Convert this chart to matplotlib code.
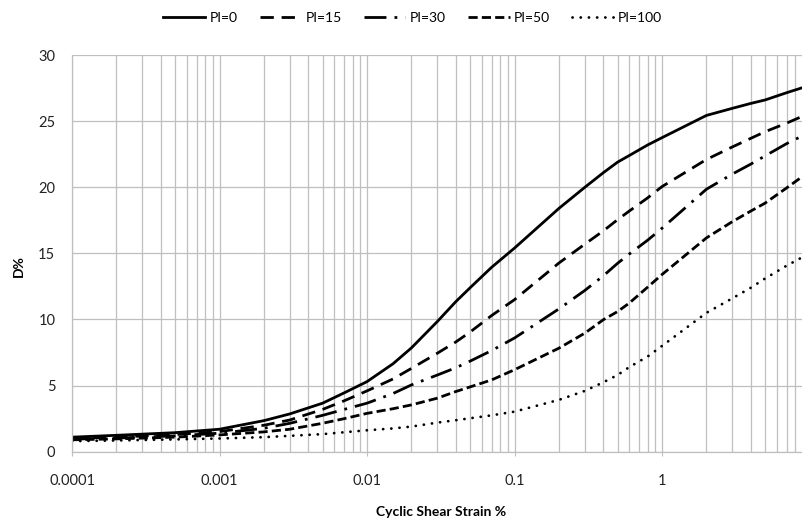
import numpy as np
import matplotlib.pyplot as plt
from matplotlib.ticker import LogLocator, FixedLocator, NullFormatter

plt.rcParams['font.family'] = ['Lato', 'DejaVu Sans']

# cyclic shear strain (%) and damping ratio D (%) for each plasticity index
strain = [1e-4, 2e-4, 5e-4, 1e-3, 2e-3, 3e-3, 5e-3, 7e-3, 0.01, 0.015, 0.02,
          0.03, 0.04, 0.05, 0.07, 0.1, 0.2, 0.3, 0.4, 0.5, 0.6, 0.8, 1,
          2, 3, 4, 5, 7, 10]
d_pi0 = [1.1, 1.24, 1.44, 1.7, 2.35, 2.86, 3.67, 4.45, 5.3, 6.65, 7.85,
         9.85, 11.35, 12.4, 13.95, 15.4, 18.4, 20.0, 21.1, 21.9, 22.4,
         23.2, 23.75, 25.43, 25.97, 26.34, 26.6, 27.15, 27.7]
d_pi15 = [1.0, 1.1, 1.3, 1.52, 2.0, 2.4, 3.2, 3.85, 4.6, 5.5, 6.3,
          7.45, 8.3, 9.05, 10.3, 11.5, 14.27, 15.7, 16.7, 17.55, 18.2,
          19.2, 20.05, 22.1, 23.05, 23.7, 24.2, 24.85, 25.6]
d_pi30 = [0.95, 1.03, 1.2, 1.4, 1.77, 2.15, 2.75, 3.2, 3.67, 4.4, 5.05,
          5.8, 6.35, 6.85, 7.65, 8.6, 10.8, 12.2, 13.3, 14.25, 14.95,
          16.0, 16.9, 19.85, 21.0, 21.75, 22.37, 23.3, 24.15]
d_pi50 = [0.9, 0.97, 1.1, 1.27, 1.5, 1.7, 2.15, 2.5, 2.9, 3.25, 3.54,
          4.05, 4.55, 4.9, 5.43, 6.2, 7.83, 8.97, 9.98, 10.6, 11.24,
          12.45, 13.4, 16.17, 17.4, 18.2, 18.8, 19.95, 21.2]
d_pi100 = [0.8, 0.85, 0.93, 1.0, 1.1, 1.2, 1.33, 1.47, 1.62, 1.76, 1.9,
           2.2, 2.38, 2.53, 2.75, 3.03, 3.92, 4.6, 5.25, 5.8, 6.4,
           7.2, 8.0, 10.5, 11.6, 12.4, 13.1, 14.07, 15.0]
labels = ['PI=0', 'PI=15', 'PI=30', 'PI=50', 'PI=100']
x_ticks = [0.0001, 0.001, 0.01, 0.1, 1]
x_ticklabels = ['0.0001', '0.001', '0.01', '0.1', '1']
y_ticks = [0, 5, 10, 15, 20, 25, 30]

fig = plt.figure(figsize=(8.03, 5.21), dpi=100)
ax = fig.add_axes([0.0897, 0.133, 0.9184, 0.7614])

lw = 2.0
styles = [
    dict(linestyle='-'),
    dict(linestyle=(0, (4.8, 2.8))),
    dict(linestyle=(0, (7.9, 2.9, 1.0, 2.9))),
    dict(linestyle=(0, (3.3, 1.5))),
    dict(linestyle=(0, (0.05, 2.9)), dash_capstyle='round'),
]
series = [d_pi0, d_pi15, d_pi30, d_pi50, d_pi100]
for d, lab, st in zip(series, labels, styles):
    ax.plot(strain, d, color='black', lw=lw, label=lab, **st)

ax.set_xscale('log')
ax.set_xlim(1e-4, 10)
ax.set_ylim(0, 30)
ax.xaxis.set_major_locator(FixedLocator(x_ticks))
ax.set_xticklabels(x_ticklabels)
ax.xaxis.set_minor_locator(LogLocator(base=10, subs=np.arange(2, 10)))
ax.xaxis.set_minor_formatter(NullFormatter())
ax.set_yticks(y_ticks)

grid_col = '#bfbfbf'
ax.grid(True, which='both', axis='x', color=grid_col, lw=0.9)
ax.grid(True, which='major', axis='y', color=grid_col, lw=0.9)
ax.set_axisbelow(True)
for s in ['top', 'right']:
    ax.spines[s].set_visible(False)
for s in ['left', 'bottom']:
    ax.spines[s].set_color(grid_col)
    ax.spines[s].set_linewidth(0.9)

ax.tick_params(axis='x', which='major', length=3, color=grid_col,
               pad=13, labelsize=10.5, labelcolor='#222222')
ax.tick_params(axis='x', which='minor', length=0)
ax.tick_params(axis='y', length=0, pad=12, labelsize=10.5,
               labelcolor='#222222')

fig.text(0.023, 0.49, 'D%', rotation=90, ha='center', va='center',
         fontsize=10, fontweight='bold')
fig.text(0.549, 0.017, 'Cyclic Shear Strain %', ha='center', va='center',
         fontsize=10, fontweight='bold')

fig.legend(loc='center', bbox_to_anchor=(0.514, 0.965), ncol=5,
           frameon=False, fontsize=10, handlelength=3.0, handletextpad=0.3,
           columnspacing=1.6)

fig.savefig('out.png', dpi=100)
